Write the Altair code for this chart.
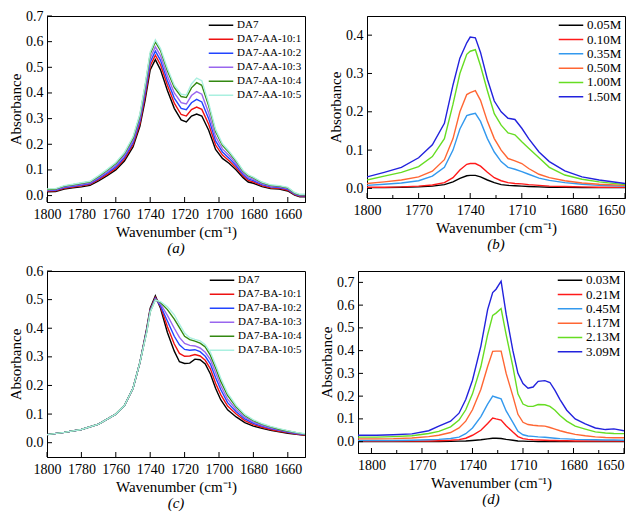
import altair as alt
import pandas as pd

FONT = "Liberation Serif"

# ---------------- panel (a) ----------------
a_names = ["DA7", "DA7-AA-10:1", "DA7-AA-10:2", "DA7-AA-10:3", "DA7-AA-10:4", "DA7-AA-10:5"]
a_colors = ["#000000", "#ee1111", "#2244ff", "#9966ee", "#338811", "#aaf0e0"]
a_wn = [1800, 1795, 1790, 1785, 1780, 1775, 1770, 1765, 1760, 1755, 1750, 1746, 1743, 1740, 1737, 1734, 1730, 1726, 1722, 1719,
        1716, 1713, 1710, 1706, 1702, 1698, 1694, 1690, 1686, 1683, 1680, 1675, 1670, 1665, 1660, 1656, 1653, 1650]
a_da7 = [.015, .016, .025, .03, .034, .04, .057, .078, .1, .135, .19, .27, .37, .49, .53, .49, .41, .34, .295, .287,
         .31, .318, .31, .255, .18, .145, .125, .1, .07, .053, .048, .035, .027, .025, .018, .002, -.005, -.005]
a_r1 = [.018, .019, .028, .033, .038, .044, .062, .083, .106, .142, .198, .28, .385, .505, .547, .51, .43, .36, .316, .31,
        .335, .345, .336, .278, .197, .158, .135, .108, .076, .059, .053, .039, .03, .028, .021, .004, -.003, -.003]
a_r2 = [.02, .021, .031, .036, .041, .047, .066, .088, .112, .149, .206, .29, .398, .52, .563, .527, .448, .38, .34, .335,
        .362, .375, .365, .3, .213, .17, .145, .116, .082, .065, .058, .043, .034, .031, .024, .006, -.001, -.001]
a_r3 = [.022, .023, .034, .039, .044, .05, .07, .093, .118, .156, .214, .3, .41, .535, .58, .545, .466, .4, .362, .357,
        .39, .405, .395, .322, .23, .182, .155, .124, .088, .071, .063, .047, .037, .034, .027, .008, .001, .001]
a_r4 = [.024, .025, .037, .042, .048, .054, .075, .099, .125, .164, .224, .312, .425, .552, .599, .565, .487, .422, .386, .382,
        .42, .44, .43, .35, .25, .196, .167, .133, .095, .078, .069, .051, .04, .037, .03, .01, .003, .003]
a_r5 = [.026, .027, .039, .044, .05, .056, .078, .102, .129, .168, .229, .318, .432, .56, .607, .573, .496, .43, .395, .392,
        .435, .458, .448, .36, .258, .202, .172, .137, .098, .081, .072, .053, .042, .039, .032, .012, .005, .005]
a_xticks = [1800, 1780, 1760, 1740, 1720, 1700, 1680, 1660]
a_yticks = [0.0, 0.1, 0.2, 0.3, 0.4, 0.5, 0.6, 0.7]

# ---------------- panel (b) ----------------
b_names = ["0.05M", "0.10M", "0.35M", "0.50M", "1.00M", "1.50M"]
conc_colors = ["#000000", "#ff1a1a", "#3399ee", "#ff6633", "#66dd22", "#2222dd"]
b_wn = [1800, 1790, 1780, 1770, 1762, 1755, 1750, 1746, 1742, 1740, 1737, 1734, 1730, 1726, 1722, 1718, 1714, 1710, 1706,
        1700, 1694, 1685, 1675, 1665, 1650]
b_005 = [.002, .002, .003, .004, .006, .01, .017, .026, .033, .034, .034, .03, .022, .015, .01, .008, .007, .006, .005,
         .004, .003, .003, .002, .002, .002]
b_010 = [.003, .003, .004, .006, .009, .015, .028, .048, .063, .065, .065, .058, .042, .028, .02, .015, .013, .012, .01,
         .008, .006, .005, .004, .003, .003]
b_035 = [.008, .011, .014, .02, .032, .055, .1, .155, .19, .193, .196, .175, .13, .095, .07, .055, .05, .044, .037,
         .027, .021, .015, .011, .008, .006]
b_050 = [.013, .017, .022, .03, .045, .075, .13, .2, .245, .25, .255, .23, .175, .13, .1, .078, .072, .065, .052,
         .037, .028, .02, .014, .011, .008]
b_100 = [.022, .032, .042, .057, .083, .13, .22, .3, .35, .358, .362, .32, .255, .195, .165, .145, .14, .122, .105,
         .08, .055, .035, .024, .017, .01]
b_150 = [.03, .042, .055, .08, .114, .17, .27, .34, .38, .395, .393, .355, .285, .228, .2, .183, .18, .157, .13,
         .095, .07, .046, .03, .022, .013]
b_xticks = [1800, 1770, 1740, 1710, 1680, 1650]
b_xminor = [1785, 1755, 1725, 1695, 1665]
b_yticks = [0.0, 0.1, 0.2, 0.3, 0.4]

# ---------------- panel (c) ----------------
c_names = ["DA7", "DA7-BA-10:1", "DA7-BA-10:2", "DA7-BA-10:3", "DA7-BA-10:4", "DA7-BA-10:5"]
c_wn = [1800, 1790, 1780, 1770, 1760, 1755, 1750, 1746, 1742, 1740, 1737, 1734, 1730, 1726, 1723, 1720, 1717, 1714, 1711,
        1708, 1705, 1702, 1699, 1695, 1690, 1685, 1680, 1675, 1670, 1665, 1660, 1655, 1650]
c_da7 = [.028, .036, .046, .065, .1, .13, .19, .28, .4, .47, .513, .47, .385, .32, .283, .277, .278, .292, .29,
         .275, .24, .19, .15, .115, .09, .07, .058, .05, .043, .038, .033, .029, .026]
c_r1 = [.028, .036, .046, .065, .1, .13, .19, .28, .395, .465, .508, .475, .405, .345, .312, .302, .303, .308, .303,
        .288, .258, .208, .168, .128, .1, .077, .063, .054, .046, .04, .035, .03, .027]
c_r2 = [.028, .036, .046, .065, .1, .13, .19, .28, .393, .462, .505, .478, .425, .372, .342, .326, .323, .325, .318,
        .302, .275, .228, .186, .14, .108, .083, .068, .058, .049, .043, .037, .032, .028]
c_r3 = [.028, .036, .046, .065, .1, .13, .19, .28, .39, .46, .502, .485, .445, .4, .368, .347, .34, .338, .331,
        .316, .29, .245, .2, .152, .116, .089, .072, .061, .052, .045, .039, .034, .029]
c_r4 = [.028, .036, .046, .065, .1, .13, .19, .28, .388, .458, .5, .49, .465, .432, .402, .372, .36, .355, .348,
        .335, .305, .262, .215, .165, .125, .095, .077, .065, .055, .047, .041, .035, .03]
c_r5 = [.028, .036, .046, .065, .1, .13, .19, .28, .386, .456, .498, .493, .475, .447, .414, .383, .367, .361, .356,
        .342, .316, .272, .226, .173, .13, .099, .08, .067, .057, .049, .042, .036, .031]
c_yticks = [0.0, 0.1, 0.2, 0.3, 0.4, 0.5, 0.6]

# ---------------- panel (d) ----------------
d_names = ["0.03M", "0.21M", "0.45M", "1.17M", "2.13M", "3.09M"]
d_wn = [1808, 1797, 1787, 1776, 1766, 1760, 1753, 1748, 1744, 1740, 1735, 1731, 1728, 1726, 1723, 1720, 1716, 1713, 1710,
        1707, 1704, 1701, 1697, 1694, 1691, 1688, 1684, 1679, 1673, 1667, 1661, 1656, 1650]
d_003 = [0, 0, 0, 0, 0, 0, .001, .002, .003, .005, .008, .012, .015, .015, .014, .01, .006, .003, .002,
         .001, .001, 0, 0, 0, 0, 0, 0, 0, 0, 0, 0, 0, 0]
d_021 = [.002, .002, .002, .002, .003, .004, .006, .009, .015, .028, .05, .08, .104, .1, .095, .07, .042, .022, .013,
         .01, .008, .007, .006, .005, .005, .004, .004, .003, .003, .003, .003, .003, .003]
d_045 = [.005, .005, .005, .006, .008, .01, .014, .02, .035, .06, .11, .165, .2, .195, .188, .135, .085, .045, .03,
         .025, .023, .021, .019, .017, .015, .013, .012, .01, .009, .008, .007, .007, .006]
d_117 = [.012, .012, .013, .016, .022, .028, .04, .06, .09, .14, .23, .33, .397, .398, .398, .3, .2, .12, .085,
         .075, .072, .07, .068, .062, .055, .048, .04, .032, .026, .021, .018, .017, .017]
d_213 = [.02, .02, .022, .026, .036, .045, .065, .095, .14, .21, .33, .47, .555, .565, .585, .47, .33, .21, .165,
         .155, .155, .163, .162, .155, .138, .115, .09, .068, .055, .043, .038, .036, .035]
d_309 = [.028, .028, .03, .034, .048, .068, .09, .125, .185, .27, .42, .58, .655, .67, .705, .56, .4, .3, .255,
         .235, .24, .265, .268, .26, .225, .185, .138, .1, .078, .06, .053, .056, .048]
d_yticks = [0.0, 0.1, 0.2, 0.3, 0.4, 0.5, 0.6, 0.7]


def panel(wn, names, values, colors, width, height, xdom, xticks, xminor, ydom, yticks,
          caption, legend_font, row_pad, last_right=False):
    rows = []
    for name, vals in zip(names, values):
        for w, v in zip(wn, vals):
            rows.append({"wn": w, "abs": v, "series": name})
    df = pd.DataFrame(rows)
    xs = alt.Scale(domain=xdom, reverse=True, nice=False, zero=False)
    ys = alt.Scale(domain=ydom, nice=False, zero=False)
    xaxis_kw = dict(values=xticks, format="d", title="Wavenumber (cm⁻¹)", ticks=False, tickSize=0,
                    grid=False, labelFlush=False, labelOverlap=False, labelPadding=5, titlePadding=3)
    if last_right:
        xaxis_kw["labelAlign"] = {"expr": "datum.value <= 1650 ? 'right' : 'center'"}
    xaxis = alt.Axis(**xaxis_kw)
    yaxis = alt.Axis(values=yticks, format=".1f", title="Absorbance", ticks=False, tickSize=0, grid=False,
                     labelFlush=False, labelOverlap=False, labelPadding=4, titlePadding=2)
    lines = alt.Chart(df).mark_line(strokeWidth=1.4, clip=True).encode(
        x=alt.X("wn:Q", scale=xs, axis=xaxis),
        y=alt.Y("abs:Q", scale=ys, axis=yaxis),
        color=alt.Color("series:N", sort=names, scale=alt.Scale(domain=names, range=colors),
                        legend=alt.Legend(title=None, orient="top-right", offset=3, padding=0,
                                          symbolType="stroke", symbolSize=600, symbolStrokeWidth=1.5,
                                          labelFont=FONT, labelFontSize=legend_font, labelOffset=3,
                                          clipHeight=12.5, rowPadding=row_pad, labelColor="black")),
    )
    layers = [lines]
    xt = alt.Chart(pd.DataFrame({"wn": xticks})).mark_rule(color="black", strokeWidth=1).encode(
        x=alt.X("wn:Q", scale=xs, axis=xaxis), y=alt.value(height), y2=alt.value(height - 5))
    layers.append(xt)
    if xminor:
        xm = alt.Chart(pd.DataFrame({"wn": xminor})).mark_rule(color="black", strokeWidth=1).encode(
            x=alt.X("wn:Q", scale=xs, axis=xaxis), y=alt.value(height), y2=alt.value(height - 3))
        layers.append(xm)
    yt = alt.Chart(pd.DataFrame({"abs": yticks})).mark_rule(color="black", strokeWidth=1).encode(
        y=alt.Y("abs:Q", scale=ys, axis=yaxis), x=alt.value(0), x2=alt.value(5))
    layers.append(yt)
    return alt.layer(*layers).properties(
        width=width, height=height,
        title=alt.TitleParams(caption, orient="bottom", offset=2, fontStyle="italic", font=FONT,
                              fontSize=15, fontWeight="normal", color="black"))


pa = panel(a_wn, a_names, [a_da7, a_r1, a_r2, a_r3, a_r4, a_r5], a_colors, 258, 186,
           [1650, 1800], a_xticks, [], [-0.025, 0.7], a_yticks, "(a)", 11, 1)
pb = panel(b_wn, b_names, [b_005, b_010, b_035, b_050, b_100, b_150], conc_colors, 258, 182,
           [1650, 1800], b_xticks, b_xminor, [-0.025, 0.45], b_yticks, "(b)", 13, 0.3, last_right=True)
pc = panel(c_wn, c_names, [c_da7, c_r1, c_r2, c_r3, c_r4, c_r5], a_colors, 258, 186,
           [1650, 1800], a_xticks, [], [-0.05, 0.6], c_yticks, "(c)", 11, 1)
pd_ = panel(d_wn, d_names, [d_003, d_021, d_045, d_117, d_213, d_309], conc_colors, 266, 182,
            [1650, 1808], b_xticks, b_xminor, [-0.05, 0.75], d_yticks, "(d)", 13, 0.3, last_right=True)

row1 = alt.hconcat(pa, pb, spacing=22).resolve_scale(color="independent")
row2 = alt.hconcat(pc, pd_, spacing=13).resolve_scale(color="independent")

chart = alt.vconcat(row1, row2, spacing=6).properties(padding=0).resolve_scale(
    color="independent"
).configure_view(
    stroke="black", strokeWidth=1
).configure_axis(
    domainColor="black", labelColor="black", titleColor="black", labelFont=FONT, titleFont=FONT,
    labelFontSize=14, titleFontSize=15, titleFontWeight="normal"
)

chart.save("out.html", embed_options={"renderer": "svg", "actions": False})
